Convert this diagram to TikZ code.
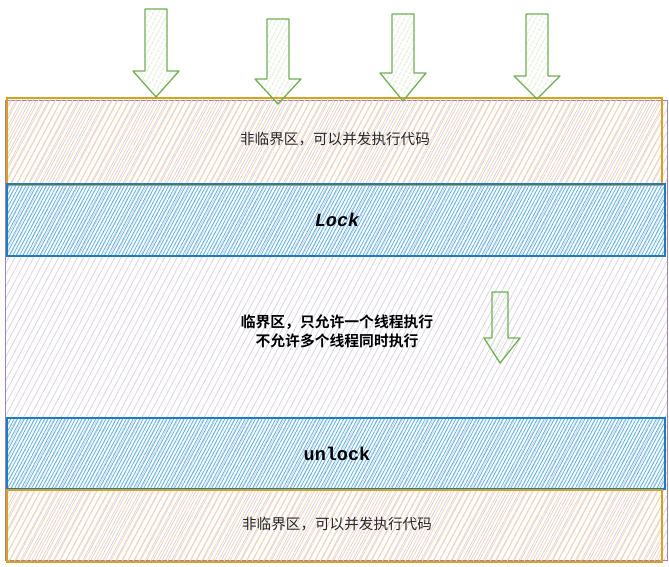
\documentclass[tikz,border=0pt]{standalone}
\usepackage{fontspec}
\newfontfamily\cjk{Noto Sans CJK SC}
\newfontfamily\cjkb{Noto Sans CJK SC Bold}
\newfontfamily\mono{Liberation Mono}
\usetikzlibrary{patterns.meta}
\definecolor{orangeS}{HTML}{D9A21B}
\definecolor{orangeH}{HTML}{F6D6B0}
\definecolor{blueS}{HTML}{1F7BBF}
\definecolor{blueH}{HTML}{58B2EA}
\definecolor{purpS}{HTML}{A482B8}
\definecolor{purpH}{HTML}{DCD2E6}
\definecolor{greenS}{HTML}{72AE55}
\definecolor{greenH}{HTML}{BEDDB2}
\tikzset{
  purpbox/.style={draw=purpS, line width=1pt, pattern={Lines[angle=62,distance=5.5pt,line width=0.8pt]}, pattern color=purpH},
  orangebox/.style={draw=orangeS, line width=1.3pt, pattern={Lines[angle=62,distance=5pt,line width=0.8pt]}, pattern color=orangeH},
  bluebox/.style={draw=blueS, line width=1.3pt, pattern={Lines[angle=62,distance=3pt,line width=0.8pt]}, pattern color=blueH},
  garrow/.style={draw=greenS, line width=1.3pt, line join=round, pattern={Lines[angle=62,distance=4pt,line width=0.7pt]}, pattern color=greenH},
  cjktext/.style={font=\cjk\fontsize{14.6}{18}\selectfont, text=black!85, align=center},
  cjkbold/.style={font=\cjkb\fontsize{14.8}{19}\selectfont, text=black, align=center},
  monotext/.style={font=\mono\bfseries\fontsize{18.5}{20}\selectfont, text=black}
}
\newcommand\gArrow[4]{%
  \draw[garrow] ({#1-11},#2) -- ({#1+11},#2) -- ({#1+11},#3) -- ({#1+23},#3) -- (#1,#4) -- ({#1-23},#3) -- ({#1-11},#3) -- cycle;}
\begin{document}
\begin{tikzpicture}[x=1pt,y=-1pt]
\useasboundingbox (0,0) rectangle (669,567);
% outer purple region
\draw[purpbox] (5,101) rectangle (667,560);
% top non-critical
\draw[orangebox] (7,98) rectangle (662,185);
\node[cjktext] (top) at (335,139) {非临界区，可以并发执行代码};
% Lock
\draw[bluebox] (7,184) rectangle (665,256);
\node[monotext, font=\mono\bfseries\itshape\fontsize{18.5}{20}\selectfont] (lock) at (337,220) {Lock};
% critical text
\node[cjkbold] (crit) at (337,331) {临界区，只允许一个线程执行\\不允许多个线程同时执行};
% unlock
\draw[bluebox] (7,418) rectangle (665,489);
\node[monotext] (unlock) at (337,454) {unlock};
% bottom non-critical
\draw[orangebox] (7,490) rectangle (662,562);
\node[cjktext] (bot) at (337,524) {非临界区，可以并发执行代码};
% arrows
\gArrow{156}{9}{71}{97}
\gArrow{278}{19}{79}{104}
\gArrow{403}{14}{73}{101}
\gArrow{537}{14}{76}{99}
\draw[garrow] (492,292) -- (508,292) -- (508,338) -- (520,338) -- (500,363) -- (484,338) -- (492,338) -- cycle;
\end{tikzpicture}
\end{document}
